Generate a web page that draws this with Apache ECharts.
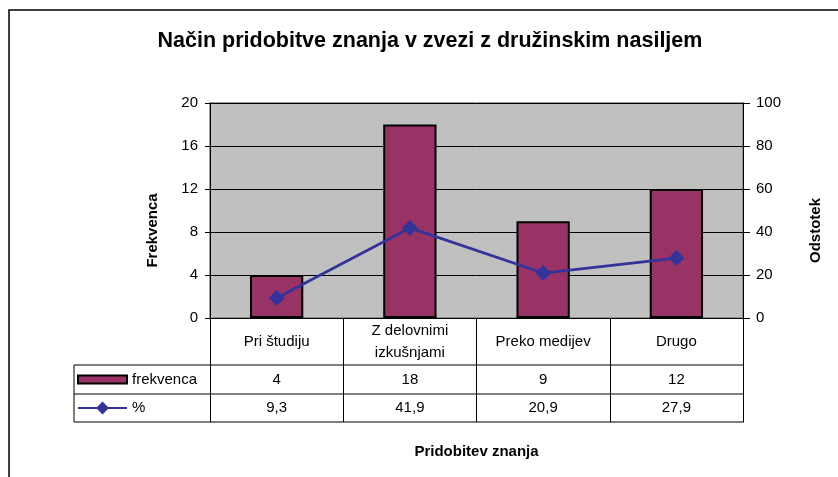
<!DOCTYPE html>
<html>
<head>
<meta charset="utf-8">
<script src="https://cdn.jsdelivr.net/npm/echarts@6/dist/echarts.min.js"></script>
<style>
  html, body { margin: 0; padding: 0; background: #fff; }
  #chart { width: 838px; height: 477px; }
</style>
</head>
<body>
<div id="chart"></div>
<script>
var categories = ["Pri študiju", "Z delovnimi\nizkušnjami", "Preko medijev", "Drugo"];
var frekvenca = [4, 18, 9, 12];
var odstotek = [9.3, 41.9, 20.9, 27.9];
var odstotekLabels = ["9,3", "41,9", "20,9", "27,9"];

var font = "Liberation Sans, Arial, sans-serif";
var myChart = echarts.init(document.getElementById("chart"));

// vrstice tabele pod osjo x
function tableAxis(margin, formatter) {
  return {
    type: "category",
    gridIndex: 0,
    position: "bottom",
    data: categories,
    axisLine: { show: false },
    axisTick: { show: false },
    axisLabel: {
      interval: 0,
      margin: margin,
      verticalAlign: "middle",
      color: "#000",
      fontSize: 15,
      fontFamily: font,
      formatter: formatter,
    },
  };
}

var nameStyle = { fontFamily: font, fontSize: 15, fontWeight: "bold", color: "#000" };
// navpicna imena osi so v izvirniku malo nizje od sredine
var vNameStyle = Object.assign({}, nameStyle, { padding: [0, 40, 0, 0] });

var options = {
  backgroundColor: "#fff",
  animation: false,
  title: {
    text: "Način pridobitve znanja v zvezi z družinskim nasiljem",
    left: 425,
    top: 25,
    textAlign: "center",
    textStyle: { fontFamily: font, fontSize: 21.5, fontWeight: "bold", color: "#000" },
  },
  legend: [
    {
      orient: "vertical",
      left: 77,
      top: 371.5,
      padding: 0,
      itemWidth: 49,
      itemHeight: 8,
      textStyle: { fontFamily: font, fontSize: 15, lineHeight: 16, color: "#000" },
      data: [{ name: "frekvenca", icon: "rect" }],
    },
    {
      orient: "vertical",
      left: 77,
      top: 400,
      padding: 0,
      itemWidth: 49,
      itemHeight: 16,
      textStyle: { fontFamily: font, fontSize: 15, lineHeight: 16, color: "#000" },
      data: [{ name: "%" }],
    },
  ],
  grid: {
    left: 210,
    right: 95,
    top: 103,
    bottom: 159,
    show: true,
    backgroundColor: "#C0C0C0",
    borderColor: "#808080",
    borderWidth: 1.5,
  },
  xAxis: [
    {
      type: "category",
      data: categories,
      position: "bottom",
      name: "Pridobitev znanja",
      nameLocation: "middle",
      nameGap: 126,
      nameTextStyle: nameStyle,
      axisLine: { show: true, lineStyle: { color: "#000", width: 1 } },
      axisTick: { show: true, interval: 0, length: 104, lineStyle: { color: "#000", width: 1 } },
      axisLabel: {
        interval: 0,
        margin: 23.5,
        verticalAlign: "middle",
        lineHeight: 22,
        color: "#000",
        fontSize: 15,
        fontFamily: font,
      },
      splitLine: { show: false },
    },
    tableAxis(61.5, function (v, i) { return String(frekvenca[i]); }),
    tableAxis(90, function (v, i) { return odstotekLabels[i]; }),
  ],
  yAxis: [
    {
      type: "value",
      min: 0,
      max: 20,
      interval: 4,
      name: "Frekvenca",
      nameLocation: "middle",
      nameGap: 50,
      nameRotate: 90,
      nameTextStyle: vNameStyle,
      axisLine: { show: true, lineStyle: { color: "#000" } },
      axisTick: { show: true, length: 5, lineStyle: { color: "#000" } },
      axisLabel: { color: "#000", fontSize: 15, fontFamily: font, margin: 12 },
      splitLine: { show: true, lineStyle: { color: "#000", width: 1 } },
    },
    {
      type: "value",
      min: 0,
      max: 100,
      interval: 20,
      position: "right",
      name: "Odstotek",
      nameLocation: "middle",
      nameGap: 65,
      nameRotate: 90,
      nameTextStyle: vNameStyle,
      axisLine: { show: true, lineStyle: { color: "#000" } },
      axisTick: { show: true, length: 7, lineStyle: { color: "#000" } },
      axisLabel: { color: "#000", fontSize: 15, fontFamily: font, margin: 13 },
      splitLine: { show: false },
    },
  ],
  graphic: [
    {
      type: "rect",
      shape: { x: 9, y: 10, width: 840, height: 480 },
      style: { fill: "none", stroke: "#000", lineWidth: 1.5 },
      silent: true,
    },
    {
      type: "polyline",
      shape: { points: [[744, 365], [74, 365], [74, 422], [744, 422]] },
      style: { fill: "none", stroke: "#000", lineWidth: 1 },
      silent: true,
    },
    {
      type: "line",
      shape: { x1: 74, y1: 394, x2: 744, y2: 394 },
      style: { stroke: "#000", lineWidth: 1 },
      silent: true,
    },
  ],
  series: [
    {
      name: "frekvenca",
      type: "bar",
      xAxisIndex: 0,
      yAxisIndex: 0,
      barWidth: "40%",
      data: frekvenca,
      itemStyle: { color: "#993366", borderColor: "#000", borderWidth: 2 },
    },
    {
      name: "%",
      type: "line",
      xAxisIndex: 0,
      yAxisIndex: 1,
      data: odstotek,
      symbol: "diamond",
      symbolSize: 16,
      lineStyle: { color: "#333399", width: 2.75 },
      itemStyle: { color: "#333399" },
      z: 5,
    },
  ],
};
myChart.setOption(options, true);
</script>
</body>
</html>
